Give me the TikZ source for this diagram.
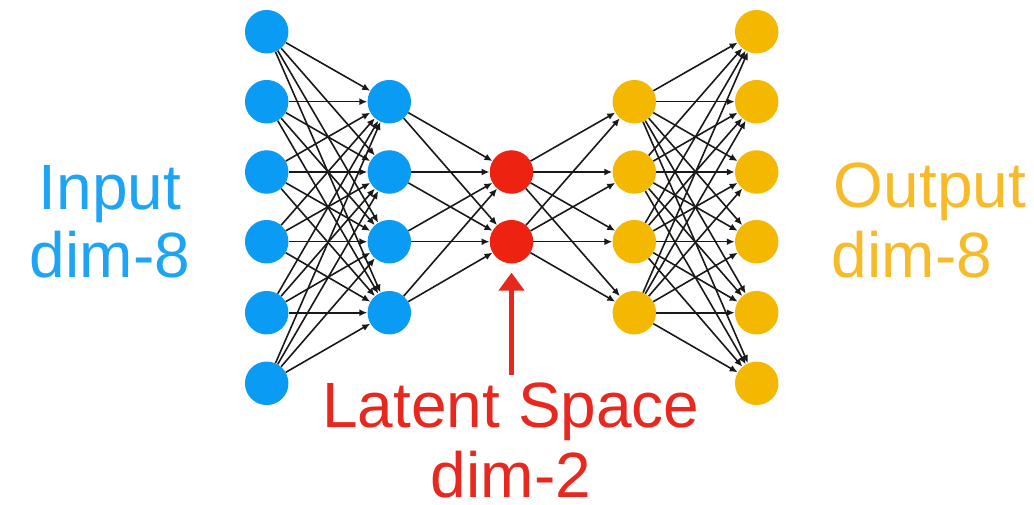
\documentclass[tikz,border=0pt]{standalone}
\usepackage{fontspec}
\setmainfont{Liberation Sans}
\usetikzlibrary{arrows.meta}
\definecolor{inblue}{HTML}{0A9BF5}
\definecolor{inbluetext}{HTML}{1DA4F5}
\definecolor{latred}{HTML}{EE2210}
\definecolor{latredtext}{HTML}{E8281E}
\definecolor{outgold}{HTML}{F5B800}
\definecolor{outgoldtext}{HTML}{F7BB2A}
\tikzset{
  neuron/.style={circle, minimum size=43.5pt, inner sep=0pt, draw=none},
  edge/.style={draw=black!90, line width=1.6pt, -{Latex[length=8pt,width=7pt]}},
  bigtext/.style={font=\fontsize{64}{70}\selectfont, inner sep=0pt, anchor=base},
}
\begin{document}
\begin{tikzpicture}[x=1pt, y=-1pt]
\path[use as bounding box] (0,0) rectangle (1034,505);

% input layer
\foreach \i/\y in {1/31.7, 2/101.7, 3/172, 4/241.7, 5/312.7, 6/383.3}
  \node[neuron, fill=inblue] (a\i) at (266.7,\y) {};
% encoder hidden layer
\foreach \i/\y in {1/101.7, 2/172, 3/241.7, 4/312.7}
  \node[neuron, fill=inblue] (b\i) at (389.3,\y) {};
% latent layer
\foreach \i/\y in {1/172, 2/241.7}
  \node[neuron, fill=latred] (c\i) at (511.5,\y) {};
% decoder hidden layer
\foreach \i/\y in {1/101.7, 2/172, 3/241.7, 4/312.7}
  \node[neuron, fill=outgold] (d\i) at (634.3,\y) {};
% output layer
\foreach \i/\y in {1/31.7, 2/101.7, 3/172, 4/241.7, 5/312.7, 6/383.3}
  \node[neuron, fill=outgold] (e\i) at (756.7,\y) {};

% fully connected weights
\foreach \i in {1,...,6}
  \foreach \j in {1,...,4}
    \draw[edge] (a\i) -- (b\j);
\foreach \i in {1,...,4}
  \foreach \j in {1,2}
    \draw[edge] (b\i) -- (c\j);
\foreach \i in {1,2}
  \foreach \j in {1,...,4}
    \draw[edge] (c\i) -- (d\j);
\foreach \i in {1,...,4}
  \foreach \j in {1,...,6}
    \draw[edge] (d\i) -- (e\j);

% labels
\node[bigtext, text=inbluetext] (inA) at (110,210) {Input};
\node[bigtext, text=inbluetext] (inB) at (110,278) {dim-8};
\node[bigtext, text=outgoldtext] (outA) at (930,208) {Output};
\node[bigtext, text=outgoldtext] (outB) at (912,278) {dim-8};
\node[bigtext, text=latredtext] (latA) at (511,427) {Latent Space};
\node[bigtext, text=latredtext] (latB) at (511,497) {dim-2};

% pointer to the latent code
\coordinate (ptr) at (511.5,375);
\draw[latredtext, line width=5pt, shorten >=9pt, -{Triangle[length=18pt,width=25pt]}] (ptr) -- (c2.south);
\end{tikzpicture}
\end{document}
